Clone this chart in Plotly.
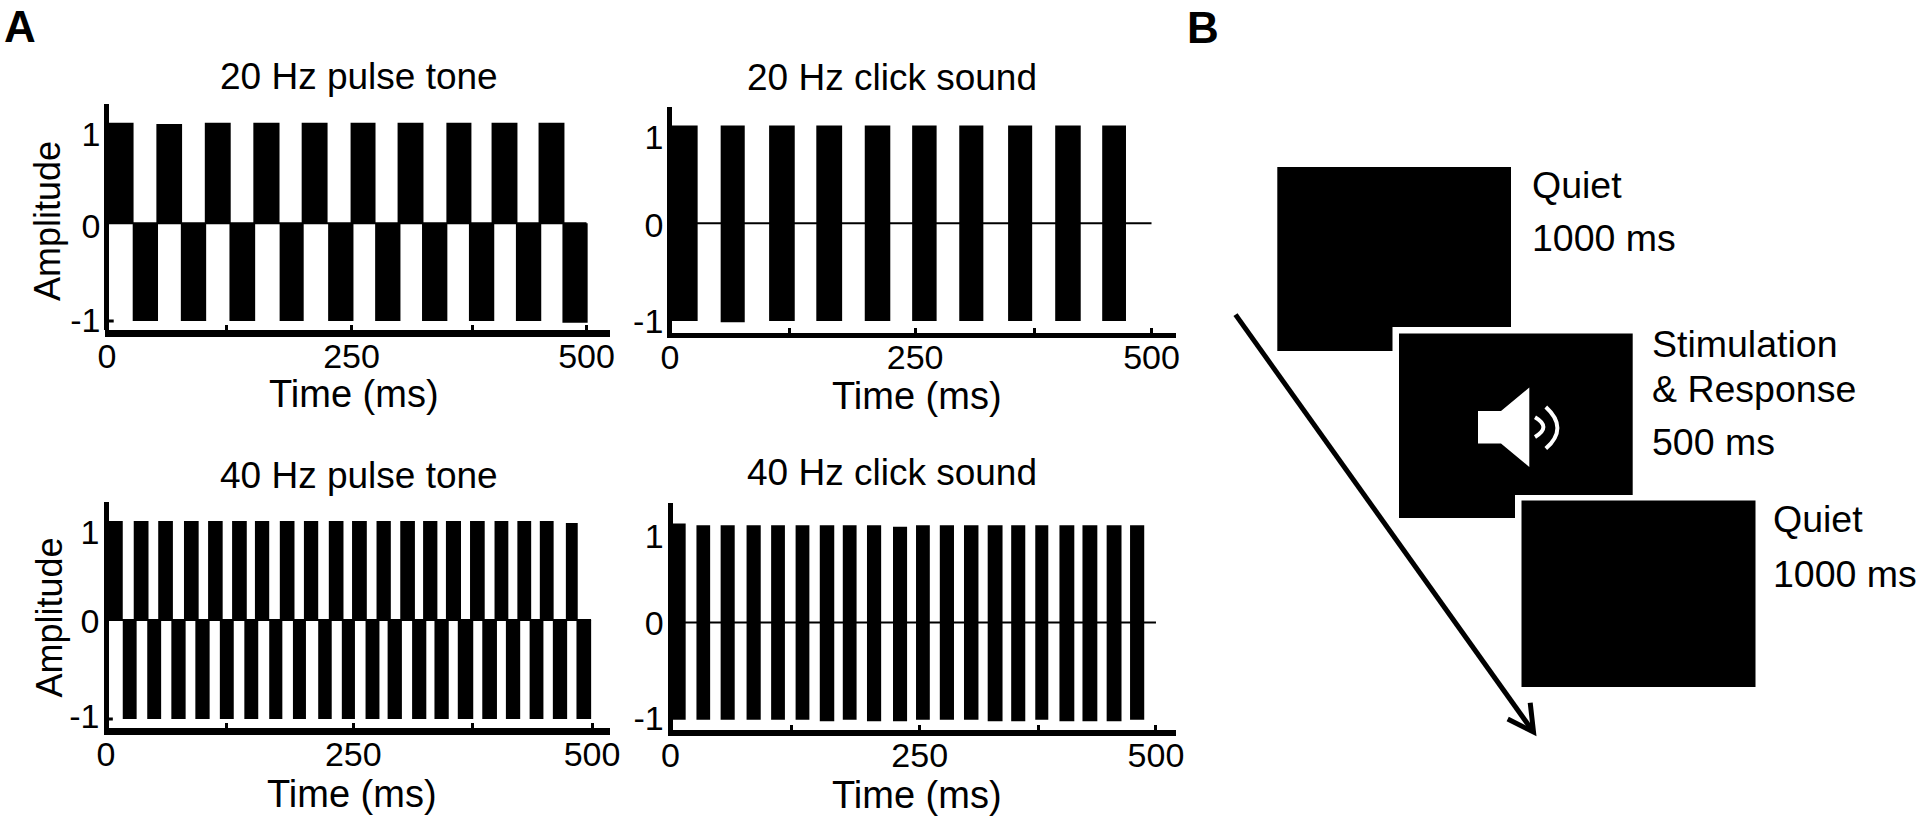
import plotly.graph_objects as go

W, H = 1917, 818
FONT = "Liberation Sans"

# ---------- Panel A data (ms / amplitude) ----------
p20_up_start = [0, 51.5, 102, 152.6, 203, 254, 303, 353.9, 401, 450]
p20_up_end = [27.7, 78.3, 129, 179.9, 230, 280, 330, 380, 428, 477]
p20_up_amp = [1.03, 1.017, 1.03, 1.03, 1.03, 1.03, 1.03, 1.03, 1.03, 1.03]
p20_dn_start = [26.8, 77, 127.7, 180, 230.6, 279.6, 328.5, 377.4, 426.4, 474.9]
p20_dn_end = [53.2, 103.4, 154.5, 205.1, 257, 306, 354.9, 403.8, 452.8, 501.2]
p20_dn_amp = [-1, -1, -1, -1, -1, -1, -1, -1, -1, -1.017]

c20_start = [0, 52.7, 103, 152, 202.3, 251.5, 300.4, 351.1, 400, 448.8]
c20_end = [28.8, 77.7, 129.6, 178.8, 228.8, 276.9, 325.4, 376.1, 426.5, 473.5]
c20_top = [1, 1, 1, 1, 1, 1, 1, 1, 1, 1]
c20_bot = [-1, -1.014, -1, -1, -1, -1, -1, -1, -1, -1]

p40_up_start = [0, 28.5, 53.7, 80.2, 105, 129.7, 153.2, 178.8, 203.6, 229.2,
                253.1, 278.3, 302.7, 326.2, 349.7, 374.5, 399.7, 423.2, 446.3, 473.1]
p40_up_end = [17.2, 43.7, 68.8, 95.3, 120, 144.8, 167.9, 193.9, 218.3, 244.3,
              268.3, 293, 317.8, 340.9, 365.2, 389.6, 413.9, 437.4, 460.5, 485.3]
p40_up_amp = [1.0] * 19 + [0.98]
p40_dn_start = [17.2, 42.4, 67.2, 91.9, 117.1, 142.3, 167.9, 192.3, 218.3, 242.6,
                267, 289.7, 314.9, 337.9, 361.9, 387.1, 411.4, 435.8, 459.7, 484]
p40_dn_end = [31.5, 56.7, 81.9, 106.6, 131.4, 156.6, 181.4, 205.7, 232.2, 256.1,
              281.3, 304.4, 329.5, 352.6, 377.8, 402.2, 426.1, 450, 474.4, 499.1]
p40_dn_amp = [-1.0] * 20

c40_start = [0, 26.8, 51.7, 78.4, 103.7, 128.9, 153.8, 177.5, 202.4, 229.2,
             252.9, 277.4, 302.3, 326.7, 350.9, 375.7, 400.6, 424.3, 449.2, 473.3]
c40_end = [15.7, 40.9, 66.2, 93, 117.9, 143.1, 168.7, 191.7, 217, 243.7,
           267.1, 292, 317.2, 342, 365.4, 389.1, 415.9, 439.6, 464.5, 487.9]
c40_top = [1.017, 1, 1, 1, 1, 1, 1, 1, 1, 0.983, 1, 1, 1, 1, 1, 1, 1, 1, 1, 1]
c40_bot = [-1, -1, -1, -1, -1, -1, -1.014, -1, -1.014, -1.014,
           -1, -1, -1, -1.014, -1.014, -1, -1.014, -1.014, -1.014, -1]

x_tick_labels = ["0", "", "250", "", "500"]
y_tick_labels = ["-1", "0", "1"]

panels = [
    dict(title="20 Hz pulse tone", title_xy=(358.8, 76), ylabel_xy=(47, 221), xlabel_xy=(353.7, 394),
         groups=[(p20_up_start, p20_up_end, p20_up_amp), (p20_dn_start, p20_dn_end, p20_dn_amp)],
         xt=[0, 124.6, 255, 380.6, 500], yt=[-0.99, -0.03, 0.91],
         xdom=(104.5, 610), ydom=(104, 330), xr=[-2.6, 524.5], yr=[-1.092, 1.221],
         axw=7, zero_end=500, minus_tick=True),
    dict(title="20 Hz click sound", title_xy=(891.6, 77), ylabel_xy=None, xlabel_xy=(916.8, 396),
         groups=[(c20_start, c20_end, c20_top), (c20_start, c20_end, c20_bot)],
         xt=[0, 123.8, 254.6, 378.5, 500], yt=[-1, -0.017, 0.886],
         xdom=(667.3, 1175.6), ydom=(106.7, 333.3), xr=[-2.7, 525], yr=[-1.126, 1.193],
         axw=5, zero_end=500, minus_tick=False),
    dict(title="40 Hz pulse tone", title_xy=(358.8, 475), ylabel_xy=(49, 617.5), xlabel_xy=(352, 794),
         groups=[(p40_up_start, p40_up_end, p40_up_amp), (p40_dn_start, p40_dn_end, p40_dn_amp)],
         xt=[0, 124.3, 254.4, 377.4, 500], yt=[-0.97, -0.01, 0.89],
         xdom=(103.5, 610), ydom=(501.7, 728.3), xr=[-2.6, 518.5], yr=[-1.094, 1.195],
         axw=7, zero_end=499, minus_tick=True),
    dict(title="40 Hz click sound", title_xy=(892, 472), ylabel_xy=None, xlabel_xy=(917, 795),
         groups=[(c40_start, c40_end, c40_top), (c40_start, c40_end, c40_bot)],
         xt=[0, 124.7, 256.7, 378.8, 500], yt=[-0.98, -0.01, 0.886],
         xdom=(667.7, 1175.6), ydom=(502.7, 730), xr=[-2.8, 520.2], yr=[-1.105, 1.231],
         axw=6, zero_end=500, minus_tick=False),
]

# ---------- Panel B data (page pixels) ----------
boxes = [(1277.3, 167, 1511, 351), (1399, 333.5, 1632.7, 518), (1521.5, 500.5, 1755.5, 687)]
halos = [None, (1392.5, 327, 1640, 525), (1515, 495, 1762, 694)]
speaker_x = [1478, 1501, 1529.3, 1529.3, 1501, 1478]
speaker_y = [411, 411, 387.6, 467, 443.4, 443.4]
arrow_shaft = [(1235.5, 314.6), (1532, 730)]
arrow_head = [(1507.7, 719), (1533.5, 732), (1530.2, 702.7)]
labels_b = [("Quiet", 1530, 185), ("1000 ms", 1530, 238),
            ("Stimulation", 1650, 344), ("& Response", 1650, 389), ("500 ms", 1650, 442),
            ("Quiet", 1771, 519), ("1000 ms", 1771, 574)]
panel_letters = [("A", 2, 26), ("B", 1185, 27)]

fig = go.Figure()
annotations, shapes = [], []

# full-page pixel axes for the schematic and the titles
fig.add_trace(go.Scatter(x=[0], y=[0], mode="markers", marker=dict(opacity=0), showlegend=False,
                         hoverinfo="skip", xaxis="x", yaxis="y"))
fig.update_layout(
    xaxis=dict(domain=[0, 1], range=[0, W], anchor="y", visible=False, fixedrange=True, automargin=False),
    yaxis=dict(domain=[0, 1], range=[H, 0], anchor="x", visible=False, fixedrange=True, automargin=False),
)

def label(text, xy, size, angle=0, anchor="center"):
    annotations.append(dict(text=text, x=xy[0], y=xy[1], xref="x", yref="y", showarrow=False,
                            xanchor=anchor, yanchor="middle", textangle=angle,
                            font=dict(family=FONT, size=size, color="#000")))

for i, p in enumerate(panels, start=2):
    xn, yn = f"x{i}", f"y{i}"
    for st, en, amp in p["groups"]:
        fig.add_trace(go.Bar(
            x=[(a + b) / 2 for a, b in zip(st, en)], width=[b - a for a, b in zip(st, en)],
            y=amp, base=0, marker=dict(color="#000", line=dict(width=0)),
            showlegend=False, hoverinfo="skip", xaxis=xn, yaxis=yn))
    fig.add_trace(go.Scatter(x=[0, p["zero_end"]], y=[0, 0], mode="lines",
                             line=dict(color="#000", width=2), showlegend=False,
                             hoverinfo="skip", xaxis=xn, yaxis=yn))
    if p["minus_tick"]:
        fig.add_trace(go.Scatter(x=[0, 7], y=[-1, -1], mode="lines",
                                 line=dict(color="#000", width=3), showlegend=False,
                                 hoverinfo="skip", xaxis=xn, yaxis=yn))
    fig.update_layout({
        f"xaxis{i}": dict(
            domain=[p["xdom"][0] / W, p["xdom"][1] / W], range=p["xr"], anchor=yn, automargin=False,
            tickmode="array", tickvals=p["xt"], ticktext=x_tick_labels,
            ticks="inside", ticklen=5, tickwidth=3, tickcolor="#000",
            showline=True, linecolor="#000", linewidth=p["axw"],
            showgrid=False, zeroline=True, zerolinecolor="#000", zerolinewidth=5,
            tickfont=dict(family=FONT, size=34, color="#000"), ticklabelstandoff=-10,
            fixedrange=True),
        f"yaxis{i}": dict(
            domain=[1 - p["ydom"][1] / H, 1 - p["ydom"][0] / H], range=p["yr"], anchor=xn, automargin=False,
            tickmode="array", tickvals=p["yt"], ticktext=y_tick_labels, ticks="",
            showline=False, showgrid=False, zeroline=False,
            tickfont=dict(family=FONT, size=34, color="#000"), ticklabelstandoff=3,
            fixedrange=True),
    })
    label(p["title"], p["title_xy"], 37)
    label("Time (ms)", p["xlabel_xy"], 38)
    if p["ylabel_xy"]:
        label("Amplitude", p["ylabel_xy"], 36, angle=-90)


def rect(b, color):
    return dict(type="rect", xref="x", yref="y", x0=b[0], y0=b[1], x1=b[2], y1=b[3],
                fillcolor=color, line=dict(width=0), layer="above")

for box, halo in zip(boxes, halos):
    if halo:
        shapes.append(rect(halo, "#fff"))
    shapes.append(rect(box, "#000"))

def poly(xs, ys, closed=True):
    return "M" + " L".join(f"{a} {b}" for a, b in zip(xs, ys)) + (" Z" if closed else "")

shapes.append(dict(type="path", xref="x", yref="y", path=poly(speaker_x, speaker_y),
                   fillcolor="#fff", line=dict(width=0), layer="above"))
for path in ["M1535 417.3 Q1551.8 427 1535 437", "M1545.8 406.9 Q1569 428 1545.8 448.6"]:
    shapes.append(dict(type="path", xref="x", yref="y", path=path,
                       line=dict(color="#fff", width=4), layer="above"))
shapes.append(dict(type="line", xref="x", yref="y", x0=arrow_shaft[0][0], y0=arrow_shaft[0][1],
                   x1=arrow_shaft[1][0], y1=arrow_shaft[1][1], line=dict(color="#000", width=5),
                   layer="above"))
shapes.append(dict(type="path", xref="x", yref="y",
                   path=poly([a for a, _ in arrow_head], [b for _, b in arrow_head], closed=False),
                   line=dict(color="#000", width=5), layer="above"))

for t, x, y in labels_b:
    label(t, (x, y), 37.5, anchor="left")
for t, x, y in panel_letters:
    label(f"<b>{t}</b>", (x, y), 44, anchor="left")

fig.update_layout(width=W, height=H, margin=dict(l=0, r=0, t=0, b=0, pad=0), autosize=False,
                  paper_bgcolor="#fff", plot_bgcolor="#fff", barmode="overlay", showlegend=False,
                  annotations=annotations, shapes=shapes)

fig.write_html("out.html", config={"displayModeBar": False},
               post_script="document.body.style.margin='0';document.documentElement.style.overflow='hidden';")
